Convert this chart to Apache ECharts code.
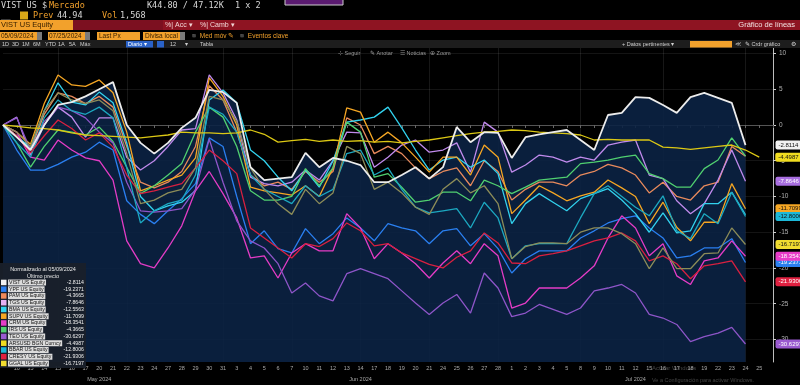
<!DOCTYPE html>
<html><head><meta charset="utf-8">
<script src="https://cdn.jsdelivr.net/npm/echarts@6/dist/echarts.min.js"></script>
<style>html,body{margin:0;padding:0;background:#000;}#c{width:800px;height:385px;}</style>
</head><body><div id="c"></div>
<script>
// ---------- DATA ----------
const dates = ['2024-05-09','2024-05-10','2024-05-13','2024-05-14','2024-05-15','2024-05-16','2024-05-17','2024-05-20','2024-05-21','2024-05-22','2024-05-23','2024-05-24','2024-05-27','2024-05-28','2024-05-29','2024-05-30','2024-05-31',
'2024-06-03','2024-06-04','2024-06-05','2024-06-06','2024-06-07','2024-06-10','2024-06-11','2024-06-12','2024-06-13','2024-06-14','2024-06-17','2024-06-18','2024-06-19','2024-06-20','2024-06-21','2024-06-24','2024-06-25','2024-06-26','2024-06-27','2024-06-28',
'2024-07-01','2024-07-02','2024-07-03','2024-07-04','2024-07-05','2024-07-08','2024-07-09','2024-07-10','2024-07-11','2024-07-12','2024-07-15','2024-07-16','2024-07-17','2024-07-18','2024-07-19','2024-07-22','2024-07-23','2024-07-24','2024-07-25','2024-07-26'];
const monthNames = ['Jan','Feb','Mar','Apr','May','Jun','Jul','Aug','Sep','Oct','Nov','Dec'];
const yTicks = [-30,-25,-20,-15,-10,-5,0,5,10];

const names = ['VIST US Equity','YPF US Equity','PAM US Equity','TGS US Equity','BMA US Equity','SUPV US Equity','CRM US Equity','IRS US Equity','TEO US Equity','ARSUSD BGN Curncy','BBAR US Equity','CRESY US Equity','GGAL US Equity'];

const vist = [0,-1.7,-3.5,0,2.8, 3.2,4,5,6,0, -2.5,-4,-2.5,-0.4,1, 4.9,4.6,3.1,-5.9,-7.7, -7.5,-7.3,-3.9,-5.9,-4.6, -5,-5.6,-8,-8,-7, -5.9,-7.5,-5.9,-0.3,-2.4, -1,-1.1,-4.6,-1.7,-1.3, -1,-0.7,-2.1,-3.5,1.4, 1.7,3.9,3.8,2.8,1.7, 3.9,4.5,3.8,3.1,-2.8114];
const ypf = [0,-3.5,-6.3,-6.3,-5.5, -4.5,-3.8,-2.4,-3.5,-10.6, -12.5,-13.8,-12,-10.3,-8.2, -1.8,-3,-10,-16.6,-14.8, -17.3,-17.9,-14.5,-16.6,-15.2, -13,-14.4,-16.2,-13.8,-14.4, -14.8,-16.6,-14.8,-14.5,-16.9, -15.2,-17.3,-20.7,-18.7,-17.6, -17.6,-17.6,-15.8,-14.8,-13.7, -13.1,-12.7,-14.4,-15.8,-18.6, -18.3,-17.2,-17.2,-15.9,-19.2371];
const pam = [0,-1.5,-3.5,1.5,4.5, 4,3,4,2.5,-3, -8,-8.8,-8,-6.5,-3, 5.5,3.5,-1,-7,-8.5, -8,-9,-6.5,-8,-6.5, 1,0,-4,-3,-4, -6,-7.5,-6.5,-6,-8.5, -5,-6.5,-10.5,-9,-8, -8,-8.5,-7,-6.5,-5.5, -6,-7,-9.5,-8,-10, -10.5,-8.5,-8,-3,-4.3665];
const tgs = [0,1.1,-4.2,0,2.5, 1.1,-1.7,1,1,-4.5, -6.3,-5,-3,-0.7,-0.5, 7,4.5,0.7,-7.3,-8.2, -8.5,-8,-6.3,-7.7,-5, -1,-1.1,-5.9,-4.5,-2.8, -2.1,-3.8,-3.5,-2.5,-6.6, 0.4,-1,-6.6,-5.6,-4.2, -4.5,-5.2,-4.5,-4.9,-2.8, -2.4,-2.1,-7,-7.5,-10.6, -12.4,-11,-7.7,-3.5,-7.8646];
const bma = [0,-1.5,-3.2,2,5.9, 3.2,2.8,4.6,3.1,-2.5, -10,-12,-11.3,-10.8,-9.2, 3.5,4.9,3.1,-3.5,-5, -7.3,-9.2,-6.3,-8.7,-5, 0.4,0.7,1.1,2.5,-0.4, -3.5,-6.3,-4.9,-4.5,-5.9, -4.9,-6.8,-13.8,-11,-9.6, -10.8,-12,-10.3,-9.6,-8.9, -10.5,-12.4,-15,-12.3,-15.1, -14.8,-11,-11,-9.4,-12.5563];
const supv = [0,-1,-2.7,3,7, 5.6,5.4,6.3,4.5,-1, -9.2,-8.5,-7.7,-7,-4.6, 6.6,4,0,-8.7,-9.2, -9.5,-9.8,-8.5,-10,-6, 2.4,1.8,-2.4,-1,-2.5, -4.5,-6.6,-4.5,-4.5,-7, -2.8,-4.5,-12.4,-10.5,-8.5, -9.5,-10.6,-9.9,-9.4,-7.7, -8.8,-10,-13.8,-10.8,-14.3, -16.2,-13.6,-13.6,-8.2,-11.7099];
const crm = [0,-1,-4.5,-4.9,-2.1, -3.5,-4.6,-5,-7.7,-16.2, -19.4,-20,-17.2,-14.1,-9.2, -6.5,-9.6,-13,-18.6,-18.3, -21.4,-17.9,-16.6,-17.6,-17.6, -12.4,-14.4,-18.7,-16.6,-17.9, -19.4,-21.4,-19.3,-17.6,-19.4, -16.6,-18.3,-25.6,-24.9,-22.8, -22.8,-22.8,-21.4,-19.7,-15.8, -12.7,-14.4,-18.3,-16.6,-21.1, -22.3,-19,-18.6,-16.2,-18.3541];
const irs = [0,-2.5,-5.9,-3,-0.7, -1,-1.4,-0.3,-2.3,-5.9, -9.6,-8.5,-7,-5.4,-1, 2.5,1.1,-3,-9.2,-10.5, -10.5,-10,-6.1,-8.5,-6, 0.4,-1,-7.3,-6.8,-8.7, -10.8,-10.5,-9.4,-9.4,-10.6, -7.7,-8.5,-9.6,-8.7,-7.7, -7.5,-7.3,-5.4,-5.2,-4.9, -4.5,-4.2,-6.8,-7.5,-8.7, -8.7,-6.1,-4.9,-1.8,-4.3665];
const teo = [0,1,-3.5,0.5,2.5, 2,1,-1,-2.5,-8, -12,-12.2,-12,-11.7,-9, -2,-8,-13.4,-16.2,-17.2, -19.4,-23.5,-22.1,-23.9,-24.6, -20.8,-20.1,-20.8,-21.5,-23.2, -24.9,-26.5,-24.9,-23.7,-26.3, -20.7,-22.8,-26.8,-26.3,-25.1, -25.8,-26.5,-25.6,-23.2,-22.8, -22.3,-23.5,-26.5,-27,-27.9, -30.3,-29.6,-29.1,-28.3,-30.6297];
const ars = [0,-0.2,-0.4,-0.5,-0.7, -1.1,-1.4,-1.5,-1.6,-1.7, -1.8,-1.6,-1.4,-1,-1.1, -1.1,-1.2,-1.1,-0.7,-1.3, -2.4,-2.2,-2,-2.3,-2.1, -2.3,-2.2,-2.4,-2.3,-2.5, -2.3,-2.1,-1.8,-1.5,-1.2, -1,-0.9,-0.7,-0.8,-1, -1.1,-1.2,-1.4,-2.1,-2, -2.1,-2.1,-2.1,-3.1,-3.2, -3.4,-3.2,-3,-2.8,-3.5, -4.4987];
const bbar = [0,-2.5,-4.5,1,3.5, 2,1.5,2.5,1,-6, -13.7,-12,-11,-10.5,-7, 2.5,1.5,-1,-7,-9, -10,-11,-8.5,-10,-9, -4,-3.5,-7,-6,-9, -11.5,-12.3,-12,-11.7,-14.4, -10.8,-13,-18.7,-16.9,-16.6, -16.6,-16.6,-13,-9.6,-8.5, -10,-11.5,-12.7,-9.9,-14.8, -15.9,-12.4,-13.8,-9.4,-12.8006];
const cresy = [0,-1.5,-3.9,-1.5,0.7, -0.5,-2.1,-1.1,-3.1,-7, -9.6,-9.2,-8.7,-8.2,-6, -3.5,-5,-6.8,-14.4,-15.8, -17.2,-18.6,-16.6,-17,-15.9, -13.7,-14.8,-16.9,-16.6,-17.9, -18.7,-19.5,-20,-18.5,-17.6, -15.1,-16.5,-19.3,-19.4,-18.3, -18,-17.6,-16.9,-16.2,-15.8, -15.1,-16.2,-19,-18.3,-19.4, -21.5,-19.7,-19.4,-19,-21.9306];
const ggal = [0,-1,-3,2,4.5, 3.5,3,3.5,2,-4, -11,-10.5,-9.5,-9,-6, 4,3.5,0.5,-6,-9, -11,-12.5,-9,-11,-9.5, -3,-4,-9,-8,-9.5, -11.5,-12.5,-9,-7.5,-9.5, -8.5,-11,-18.7,-17,-16.5, -16.5,-16.6,-15,-14.4,-14.4, -15.2,-16.6,-20.1,-17.2,-20.1, -20.1,-18,-17.9,-14.4,-16.7197];

const seriesData = [vist, ypf, pam, tgs, bma, supv, crm, irs, teo, ars, bbar, cresy, ggal];

// ---------- STYLE ----------
const lineColors = ['#ececec','#2a7ff0','#e88a5c','#c08aec','#32d2ee','#f5a623','#e43cc6','#50d070','#8e55c8','#dcc814','#1ca8c0','#d82040','#8c8c58'];
const keyColors  = ['#f2f2f2','#2a7ff0','#f08a5a','#e6b0f2','#32d2ee','#f5a623','#e43cc6','#50d070','#9a5ad0','#f0dc20','#1cb8d8','#e02040','#f0dc30'];
const tagColors  = ['#f2f2f2','#2a7ff0','#f08a5a','#a86ee0','#32d2ee','#f5a623','#e83cc8','#50d070','#9a5ad0','#f0dc20','#1cb8d8','#e02040','#f0dc30'];
const tagShown   = [true,true,false,true,false,true,true,false,true,true,true,true,true];
const tagText    = ['#111','#fff','#111','#fff','#111','#111','#fff','#111','#fff','#111','#111','#fff','#111'];
const gridIdx = [4,9,16,21,26,31,36,42,48,54];
const SANS = 'Liberation Sans, Arial, sans-serif';
const MONO = 'DejaVu Sans Mono, monospace';

const G = [];
function txt(x, y, t, fill, size, extra) {
  G.push({type:'text', x:x, y:y, z:100, silent:true,
    style:Object.assign({text:t, fill:fill, fontSize:size, fontFamily:SANS,
      align:'left', verticalAlign:'middle', textAlign:'left', textVerticalAlign:'middle'}, extra||{})});
}
function rect(x, y, w, h, fill, extra) {
  G.push({type:'rect', z:99, silent:true, shape:{x:x, y:y, width:w, height:h}, style:Object.assign({fill:fill}, extra||{})});
}

// header rows
const OR = '#f2a12c';
txt(1,6,'VIST US','#d6d6d6',8.5,{fontFamily:MONO});
txt(42,6,'$','#d6d6d6',8.5,{fontFamily:MONO});
txt(49,6,'Mercado',OR,8.5,{fontFamily:MONO});
txt(147,6,'K44.80 / 47.12K','#d6d6d6',8.5,{fontFamily:MONO});
txt(235,6,'1 x 2','#d6d6d6',8.5,{fontFamily:MONO});
rect(285,-1,58,6,'#5a1a70',{stroke:'#cccccc',lineWidth:1});
txt(1,15.5,'__','#999',8,{fontFamily:MONO});
rect(20,11.5,8,8,'#d8a818');
txt(33,15.5,'Prev',OR,8.5,{fontFamily:MONO});
txt(57,15.5,'44.94','#d6d6d6',8.5,{fontFamily:MONO});
txt(102,15.5,'Vol',OR,8.5,{fontFamily:MONO});
txt(120,15.5,'1,568','#d6d6d6',8.5,{fontFamily:MONO});
rect(0,20,800,10,'#8e1422');
rect(73,20,90,10,'#7c1020');
rect(0,20,73,10,OR);
txt(1,25,'VIST US Equity','#3a2200',7.5);
txt(165,25,'%| Acc ▾','#f2d6d6',7);
txt(200,25,'%| Camb ▾','#f2d6d6',7);
txt(795,25,'Gráfico de líneas','#f2e2e2',7.5,{align:'right',textAlign:'right'});
rect(0,32,37,8,OR); txt(1,36,'05/09/2024','#3a2200',6.5); rect(37,32,5,8,'#7a7a7a');
rect(48,32,37,8,OR); txt(49,36,'07/25/2024','#3a2200',6.5); rect(85,32,5,8,'#7a7a7a');
rect(97,32,43,8,OR); txt(99,36,'Last Px','#3a2200',6.5);
rect(143,32,37,8,OR); txt(145,36,'Divisa local','#3a2200',6.5); rect(180,32,5,8,'#7a7a7a');
txt(190,36,'◾ Med móv ✎',OR,6.5);
txt(238,36,'◾ Eventos clave',OR,6.5);
rect(0,40,800,8,'#1d1d1d');
[['1D',2],['3D',12],['1M',22],['6M',33],['YTD',45],['1A',58],['5A',69],['Máx',80]].forEach(a=>txt(a[1],44,a[0],'#cfcfcf',5.5));
rect(126,41,27,6.5,'#2a62c8'); txt(128,44,'Diario ▾','#ffffff',5.5);
rect(157,41,7,6.5,'#2a62c8');
txt(170,44,'12','#cfcfcf',5.5); txt(185,44,'▾','#cfcfcf',5.5); txt(200,44,'Tabla','#cfcfcf',5.5);
txt(622,44,'+ Datos pertinentes ▾','#cfcfcf',5.5);
rect(690,41,42,6.5,OR);
txt(735,44,'≪','#cfcfcf',5.5); txt(745,44,'✎ Crdr gráfico','#cfcfcf',5.5); txt(791,44,'⚙','#cfcfcf',6);
txt(338,53,'⊹ Seguir','#9a9a9a',5.5); txt(370,53,'✎ Anotar','#9a9a9a',5.5);
txt(400,53,'☰ Noticias','#9a9a9a',5.5); txt(430,53,'⊕ Zoom','#9a9a9a',5.5);
txt(652,368,'Activar Windows','rgba(190,190,190,0.35)',6);
txt(652,380,'Ve a Configuración para activar Windows.','rgba(190,190,190,0.35)',5.5);

// key box (bottom-left)
const d0 = dates[0].split('-');
rect(0,263,86,105,'rgba(26,32,42,0.94)');
txt(43,269,'Normalizado al ' + d0[1] + '/' + d0[2] + '/' + d0[0],'#e8e8e8',5.5,{align:'center',textAlign:'center'});
txt(43,276,'Último precio','#e8e8e8',5.5,{align:'center',textAlign:'center'});
names.forEach((n, k) => {
  const y = 282.5 + k * 6.75;
  rect(1, y - 2.8, 5.5, 5.5, keyColors[k]);
  txt(8, y, n, '#111', 5.2, {backgroundColor:'#dcdcdc', padding:[0.5,1]});
  const arr = seriesData[k];
  txt(84, y, arr[arr.length - 1].toFixed(4), '#f0f0f0', 5.2, {align:'right', textAlign:'right'});
});

// month labels: middle index of each month
const monthMid = {};
(function(){
  const groups = {};
  dates.forEach((d, i) => { const m = d.slice(0,7); (groups[m] = groups[m] || []).push(i); });
  Object.keys(groups).forEach(m => { const g = groups[m]; monthMid[g[Math.floor(g.length / 2) - 1]] = m; });
})();

// ---------- SERIES ----------
const series = [];
series.push({
  type:'line', data: vist, z:1, silent:true, showSymbol:false, symbol:'none',
  lineStyle:{width:0, opacity:0},
  areaStyle:{color:'#0b2244', opacity:0.9, origin:'start'}
});
seriesData.forEach((arr, k) => {
  const s = {
    name: names[k], type:'line', data: arr, showSymbol:false, symbol:'none',
    z: k === 0 ? 5 : (k === 9 ? 4 : 3),
    lineStyle:{color: lineColors[k], width: k === 0 ? 1.8 : 1.3},
    itemStyle:{color: lineColors[k]}
  };
  if (tagShown[k]) {
    s.endLabel = {
      show:true, formatter: p => Number(p.value).toFixed(4),
      backgroundColor: tagColors[k], color: tagText[k], fontSize:6, fontFamily:SANS,
      padding:[1.5,3], borderRadius:2, distance: arr.length === dates.length - 1 ? 16 : 30
    };
  }
  series.push(s);
});

const chart = echarts.init(document.getElementById('c'), null, {renderer:'canvas'});
chart.setOption({
  backgroundColor:'#000',
  animation:false,
  grid:{left:-3, right:27, top:48, bottom:23, containLabel:false},
  xAxis:[{
    type:'category', data: dates, boundaryGap:false,
    axisLine:{show:true, lineStyle:{color:'#555'}},
    axisTick:{show:true, interval:0, length:3, lineStyle:{color:'#666'}},
    axisLabel:{interval:0, fontSize:5.5, color:'#a8a8a8', margin:3, fontFamily:SANS,
      formatter:(v, i) => (i === 0 || i === dates.length - 1) ? '' : String(Number(v.slice(8)))},
    splitLine:{show:true, interval:(i) => gridIdx.indexOf(i) >= 0, lineStyle:{color:'rgba(255,255,255,0.09)', width:1}}
  },{
    type:'category', data: dates, boundaryGap:false, position:'bottom', offset:11,
    axisLine:{show:false}, axisTick:{show:false}, splitLine:{show:false},
    axisLabel:{interval:(i) => monthMid[i] !== undefined, fontSize:5.5, color:'#a8a8a8', margin:3, fontFamily:SANS,
      formatter:(v, i) => { const m = monthMid[i]; if (!m) return ''; return monthNames[Number(m.slice(5,7)) - 1] + ' ' + m.slice(0,4); }}
  }],
  yAxis:{
    type:'value', position:'right', min:-33.15, max:10.77,
    axisLine:{show:true, lineStyle:{color:'#bdbdbd'}},
    axisTick:{show:true, length:3, customValues: yTicks, lineStyle:{color:'#cfcfcf'}},
    axisLabel:{customValues: yTicks, fontSize:6.5, color:'#b0b0b0', margin:6, fontFamily:SANS},
    splitLine:{show:true, lineStyle:{color:'rgba(255,255,255,0.08)'}}
  },
  graphic:{elements: G},
  series: series
});
</script></body></html>
